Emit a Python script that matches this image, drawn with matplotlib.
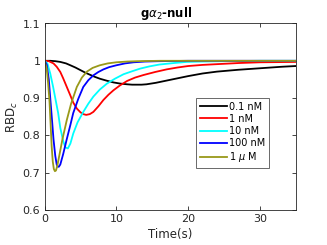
import matplotlib
matplotlib.use("Agg")
import matplotlib.pyplot as plt
from matplotlib.ticker import FuncFormatter

# ---- data ----
labels = ['0.1 nM', '1 nM', '10 nM', '100 nM', r'1 $\mu$ M']
colors = ['#000000', '#ff0000', '#00ffff', '#0000ff', '#999919']

t_black = [0, 0.8, 1.5, 2.2, 3.0, 3.6, 4.3, 5.0, 5.7, 6.4, 7.0, 7.7, 8.6, 9.6, 10.5, 11.5, 12.2, 12.8, 13.5, 14.2, 15.5, 17, 18.5, 20, 22, 24, 27, 30, 33, 35]
y_black = [1.0, 1.0, 0.999, 0.997, 0.993, 0.988, 0.982, 0.975, 0.968, 0.962, 0.957, 0.952, 0.947, 0.942, 0.939, 0.937, 0.936, 0.936, 0.936, 0.937, 0.941, 0.947, 0.953, 0.959, 0.966, 0.971, 0.976, 0.980, 0.984, 0.986]

t_red = [0, 0.6, 1.25, 1.7, 2.2, 2.6, 3.1, 3.6, 4.0, 4.5, 5.0, 5.4, 5.8, 6.3, 6.8, 7.5, 8.2, 8.9, 9.6, 10.5, 11.5, 12.6, 13.8, 15.4, 17, 18.5, 20, 22, 24, 27, 30, 35]
y_red = [1.0, 0.999, 0.993, 0.984, 0.97, 0.953, 0.93, 0.907, 0.888, 0.872, 0.862, 0.857, 0.855, 0.857, 0.863, 0.878, 0.895, 0.909, 0.921, 0.934, 0.946, 0.955, 0.962, 0.970, 0.977, 0.982, 0.986, 0.989, 0.991, 0.994, 0.996, 0.997]

t_cyan = [0, 0.4, 0.8, 1.2, 1.5, 1.9, 2.2, 2.6, 2.9, 3.25, 3.6, 4.0, 4.6, 5.4, 6.1, 6.8, 7.7, 8.7, 9.8, 11, 12.2, 13.3, 14.6, 16, 18, 19.8, 22, 25, 30, 35]
y_cyan = [1.0, 0.993, 0.966, 0.93, 0.90, 0.86, 0.82, 0.785, 0.768, 0.765, 0.778, 0.805, 0.835, 0.863, 0.885, 0.904, 0.923, 0.939, 0.952, 0.964, 0.972, 0.979, 0.985, 0.990, 0.994, 0.997, 0.998, 0.999, 1.0, 1.0]

t_blue = [0, 0.3, 0.6, 0.8, 1.05, 1.25, 1.5, 1.7, 1.85, 2.0, 2.2, 2.6, 3.1, 3.6, 4.0, 4.7, 5.4, 6.1, 6.8, 7.5, 8.2, 9.0, 10, 11.2, 12.4, 14, 16, 20, 25, 35]
y_blue = [1.0, 0.99, 0.95, 0.90, 0.84, 0.79, 0.745, 0.722, 0.716, 0.716, 0.722, 0.75, 0.79, 0.828, 0.86, 0.898, 0.93, 0.948, 0.961, 0.970, 0.977, 0.983, 0.988, 0.993, 0.996, 0.998, 0.999, 1.0, 1.0, 1.0]

t_olive = [0, 0.3, 0.5, 0.7, 0.85, 1.0, 1.15, 1.3, 1.45, 1.6, 1.8, 2.1, 2.5, 3.1, 3.7, 4.5, 5.2, 5.9, 6.7, 7.7, 8.8, 10, 11.5, 13, 16, 20, 25, 35]
y_olive = [1.0, 0.98, 0.94, 0.89, 0.83, 0.77, 0.73, 0.71, 0.704, 0.706, 0.72, 0.75, 0.79, 0.841, 0.885, 0.93, 0.955, 0.971, 0.981, 0.988, 0.993, 0.996, 0.998, 0.999, 1.0, 1.0, 1.0, 1.0]

series_t = [t_black, t_red, t_cyan, t_blue, t_olive]
series_y = [y_black, y_red, y_cyan, y_blue, y_olive]

xticks = [0, 10, 20, 30]
yticks = [0.6, 0.7, 0.8, 0.9, 1.0, 1.1]

# ---- figure ----
fig = plt.figure(figsize=(3.27, 2.45), dpi=100)
ax = fig.add_axes([44.5 / 327, 35 / 245, (296 - 44.5) / 327, (210 - 23.5) / 245])

for t, y, c, lab in zip(series_t, series_y, colors, labels):
    ax.plot(t, y, color=c, lw=1.3, label=lab)

ax.set_xlim(0, 35)
ax.set_ylim(0.6, 1.1)
ax.set_xticks(xticks)
ax.set_yticks(yticks)
ax.yaxis.set_major_formatter(FuncFormatter(lambda v, p: ('%g' % round(v, 2))))
ax.tick_params(direction='in', top=True, right=True, length=3, width=0.6,
               labelsize=8, colors='#262626', pad=3)
for s in ax.spines.values():
    s.set_linewidth(0.6)
    s.set_color('#262626')

ax.set_xlabel('Time(s)', fontsize=8.5, labelpad=3, color='#262626')
ax.set_ylabel(r'RBD$_c$', fontsize=8.5, labelpad=2, color='#262626')
ax.set_title(r'g$\alpha_2$-null', fontsize=8.5, fontweight='bold', pad=5, x=0.485)

leg = ax.legend(loc='upper left', bbox_to_anchor=((196 - 44.5) / 251.5, (210 - 98) / 186.5),
                fontsize=7, frameon=True, fancybox=False, edgecolor='#262626',
                handlelength=2.8, handletextpad=0.2, labelspacing=0.22,
                borderpad=0.38, borderaxespad=0)
leg.get_frame().set_linewidth(0.6)

fig.savefig('out.png', dpi=100)
